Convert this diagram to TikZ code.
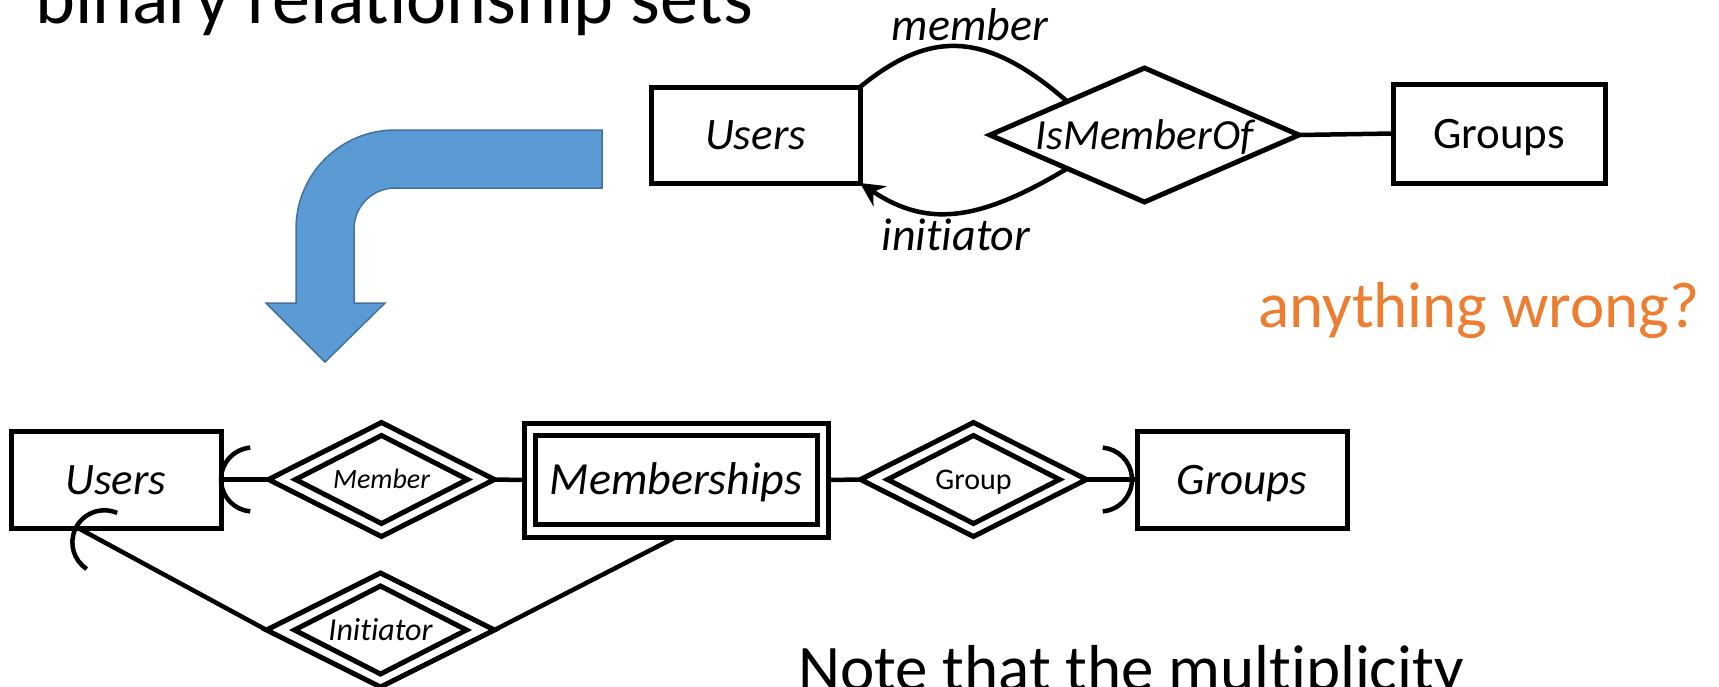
\documentclass[tikz,border=0pt]{standalone}
\usepackage{fontspec}
\setmainfont{Carlito}[Ligatures={NoCommon}]
\usetikzlibrary{shapes.geometric,arrows.meta,calc}
\definecolor{accent}{HTML}{ED7D31}
\definecolor{arrowfill}{HTML}{5B9BD5}
\definecolor{arrowline}{HTML}{41719C}
\tikzset{
  ent/.style={draw, line width=5pt, rectangle, inner sep=0pt, outer sep=0pt,
    text height=29pt, text depth=0pt, font=\fontsize{45}{50}\selectfont\itshape},
  rel/.style={draw, line width=5pt, diamond, inner sep=0pt, outer sep=0pt, text depth=0pt},
  conn/.style={line width=4.5pt},
  lbl/.style={inner sep=0pt, anchor=base, font=\fontsize{46}{50}\selectfont\itshape},
  bigtext/.style={inner sep=0pt, anchor=base west},
}
\begin{document}
\begin{tikzpicture}[x=1pt,y=1pt]
\useasboundingbox (0,0) rectangle (1719,-686);
\clip (0,0) rectangle (1719,-686);

% ---------- texts ----------
\node[bigtext, font=\fontsize{76}{80}\selectfont] (title) at (35,-23) {binary relationship sets};
\node[bigtext, font=\fontsize{65}{70}\selectfont, text=accent] (wrong) at (1258,-327) {anything wrong?};
\node[bigtext, font=\fontsize{65}{70}\selectfont] (note) at (798,-690) {Note that the multiplicity};

% ---------- top diagram ----------
\node[ent, minimum width=209pt, minimum height=96pt] (usersT) at (755.5,-135) {Users};
\node[rel, aspect=2.306, minimum width=309pt, minimum height=134pt, text height=28pt,
      font=\fontsize{43}{48}\selectfont\itshape] (ismo) at (1144.5,-135) {IsMemberOf};
\node[ent, minimum width=212pt, minimum height=99pt, font=\fontsize{45}{50}\selectfont\upshape] (groupsT) at (1499,-133.5) {Groups};

\draw[conn] (ismo.east) -- (groupsT.west);
\coordinate (mtop) at ($(ismo.west)!0.5!(ismo.north)$);
\coordinate (mbot) at ($(ismo.west)!0.5!(ismo.south)$);
\draw[conn] (usersT.north east) .. controls (930,-30) and (985,-30) .. (mtop);
\draw[conn, -{Stealth[length=24pt, width=24pt, inset=8pt]}] (mbot) .. controls (975,-224) and (925,-226) .. (usersT.south east);
\node[lbl] (lmember) at (970,-40) {member};
\node[lbl] (linit) at (956,-250) {initiator};

% ---------- blue bent arrow ----------
\draw[line width=1.5pt, draw=arrowline, fill=arrowfill, line join=miter]
  (602,-130) -- (395,-130) arc[start angle=90, end angle=180, radius=99]
  -- (296,-303) -- (266,-303) -- (325,-362) -- (385,-303) -- (354,-303)
  -- (354,-229) arc[start angle=180, end angle=90, radius=41]
  -- (602,-188) -- cycle;

% ---------- bottom diagram ----------
\node[ent, minimum width=210pt, minimum height=97pt] (usersB) at (116,-479.5) {Users};
\node[rel, aspect=1.98, minimum width=226pt, minimum height=114pt] (memO) at (381.5,-479.5) {};
\node[rel, aspect=1.95, minimum width=172pt, minimum height=88pt, text height=18pt,
      font=\fontsize{28}{32}\selectfont\itshape] (mem) at (memO) {Member};
\node[ent, minimum width=304pt, minimum height=114pt] (msO) at (676,-480) {};
\node[ent, minimum width=282pt, minimum height=89pt, font=\fontsize{46}{50}\selectfont\itshape] (ms) at (msO) {Memberships};
\node[rel, aspect=1.98, minimum width=226pt, minimum height=114pt] (grO) at (973.5,-479.5) {};
\node[rel, aspect=1.95, minimum width=172pt, minimum height=88pt, text height=19pt,
      font=\fontsize{30}{34}\selectfont] (gr) at (grO) {Group};
\node[ent, minimum width=210pt, minimum height=97pt] (groupsB) at (1242,-479.5) {Groups};
\node[rel, aspect=2, minimum width=228pt, minimum height=114pt] (inO) at (380.5,-630) {};
\node[rel, aspect=1.95, minimum width=172pt, minimum height=88pt, text height=21pt,
      font=\fontsize{32}{36}\selectfont\itshape] (ini) at (inO) {Initiator};

\draw[conn] (usersB.east) -- (memO.west);
\draw[conn] (memO.east) -- (msO.west);
\draw[conn] (msO.east) -- (grO.west);
\draw[conn] (grO.east) -- (groupsB.west);
\coordinate (ub) at (78,-528);
\draw[conn] (ub) -- (inO.west);
\draw[conn] (inO.east) -- (msO.south);

% "at most one" arcs
\draw[conn] ([xshift=32pt]usersB.east) ++(95:32) arc[start angle=95, end angle=265, radius=32];
\draw[conn] ([xshift=-37pt]groupsB.west) ++(-85:32) arc[start angle=-85, end angle=85, radius=32];
\draw[conn] ($(ub)+(-28.5:30)$) ++(66.5:32) arc[start angle=66.5, end angle=236.5, radius=32];
\end{tikzpicture}
\end{document}
